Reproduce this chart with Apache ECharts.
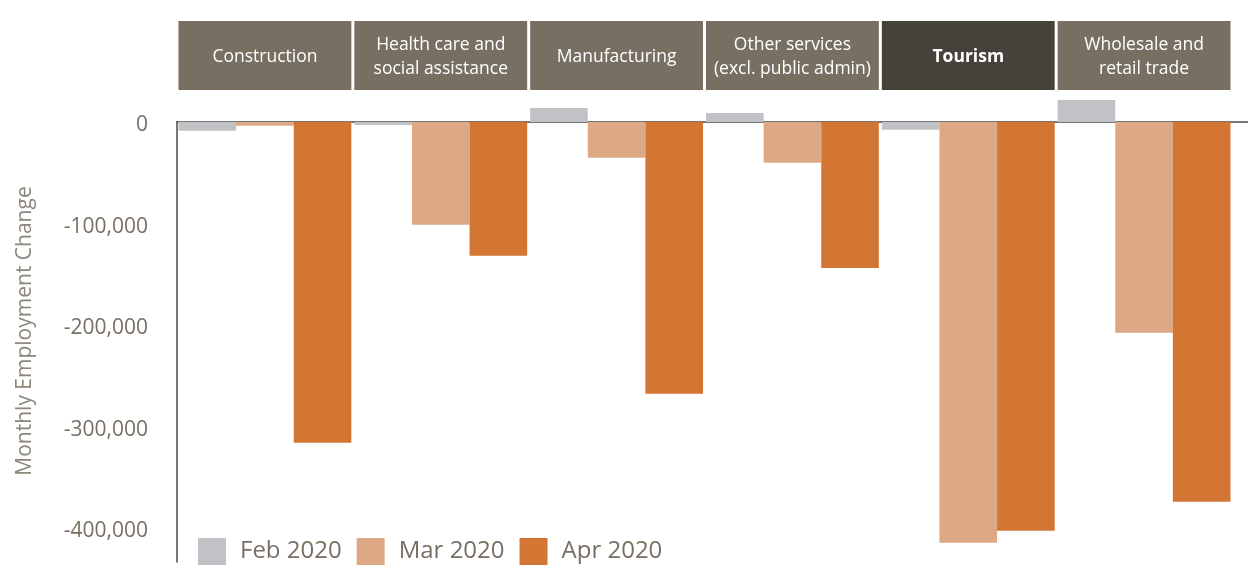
<!DOCTYPE html>
<html>
<head>
<meta charset="utf-8">
<script src="https://cdn.jsdelivr.net/npm/echarts@6/dist/echarts.min.js"></script>
<style>
html,body{margin:0;padding:0;background:#fff;}
#chart{width:1248px;height:584px;}
</style>
</head>
<body>
<div id="chart"></div>
<script>
const categories = ['Construction', 'Health care and\nsocial assistance', 'Manufacturing', 'Other services\n(excl. public admin)', 'Tourism', 'Wholesale and\nretail trade'];
const highlighted = 'Tourism';
const seriesNames = ['Feb 2020', 'Mar 2020', 'Apr 2020'];
const feb2020 = [-8500, -3000, 13800, 8900, -7600, 21700];
const mar2020 = [-3600, -101000, -35100, -40000, -414000, -207400];
const apr2020 = [-315600, -131600, -267400, -143700, -402300, -373700];
const yAxisTitle = 'Monthly Employment Change';

const FONT = '"Open Sans", sans-serif';
const TEXT = '#776F62';
const colors = ['#C1C2C5', '#DDA985', '#D37633'];

const chart = echarts.init(document.getElementById('chart'));

const headerData = categories.map(c => ({
  value: 1,
  name: c,
  itemStyle: { color: c === highlighted ? '#46423A' : '#776F62' },
  label: { fontWeight: c === highlighted ? 'bold' : 'normal' }
}));

const barSeries = [feb2020, mar2020, apr2020].map((d, i) => ({
  name: seriesNames[i],
  type: 'bar',
  xAxisIndex: 0,
  yAxisIndex: 0,
  data: d,
  clip: false,
  barGap: '0%',
  barCategoryGap: '1.7%',
  itemStyle: { color: colors[i] },
  emphasis: { disabled: true }
}));

chart.setOption({
  animation: false,
  textStyle: { fontFamily: FONT },
  color: colors,
  grid: [
    { left: 177, right: 16, top: 122, bottom: 22 },
    { left: 177, right: 16, top: 21, height: 69 }
  ],
  legend: {
    data: seriesNames,
    left: 193,
    top: 533,
    itemWidth: 28,
    itemHeight: 27,
    itemGap: 15,
    icon: 'rect',
    textStyle: { fontSize: 24, color: TEXT, fontFamily: FONT, padding: [0, 0, 0, 9] }
  },
  xAxis: [
    {
      type: 'category', gridIndex: 0, data: categories,
      axisLine: { show: true, onZero: true, lineStyle: { color: '#4a4a4a', width: 1.5 } },
      axisTick: { show: false },
      axisLabel: { show: false }
    },
    {
      type: 'category', gridIndex: 1, data: categories,
      axisLine: { show: false }, axisTick: { show: false }, axisLabel: { show: false }
    }
  ],
  yAxis: [
    {
      type: 'value', gridIndex: 0, min: -433000, max: 0,
      name: yAxisTitle,
      nameLocation: 'middle',
      nameGap: 141,
      nameTextStyle: { fontSize: 21, color: '#8C857B', fontFamily: FONT, padding: [0, 0, 0, 22] },
      axisLine: { show: true, lineStyle: { color: '#4a4a4a', width: 1.5 } },
      axisTick: { show: false },
      splitLine: { show: false },
      axisLabel: {
        fontSize: 21, color: TEXT, margin: 29, fontFamily: FONT,
        verticalAlign: 'top',
        lineHeight: 6,
        formatter: v => (v % 100000 === 0 ? echarts.format.addCommas(v) : '')
      }
    },
    { type: 'value', gridIndex: 1, min: 0, max: 1, show: false }
  ],
  series: [
    ...barSeries,
    {
      type: 'bar',
      xAxisIndex: 1,
      yAxisIndex: 1,
      data: headerData,
      barCategoryGap: '1.7%',
      silent: true,
      label: {
        show: true,
        position: 'inside',
        offset: [0, 2],
        formatter: p => p.name,
        color: '#ffffff',
        fontSize: 17.5,
        lineHeight: 24,
        fontFamily: FONT
      }
    }
  ]
});

const y0 = chart.convertToPixel({ yAxisIndex: 0 }, 0);
chart.setOption({
  graphic: [{
    type: 'line',
    shape: { x1: 1232, y1: y0, x2: 1248, y2: y0 },
    style: { stroke: '#4a4a4a', lineWidth: 1.5 },
    silent: true
  }]
});
</script>
</body>
</html>
